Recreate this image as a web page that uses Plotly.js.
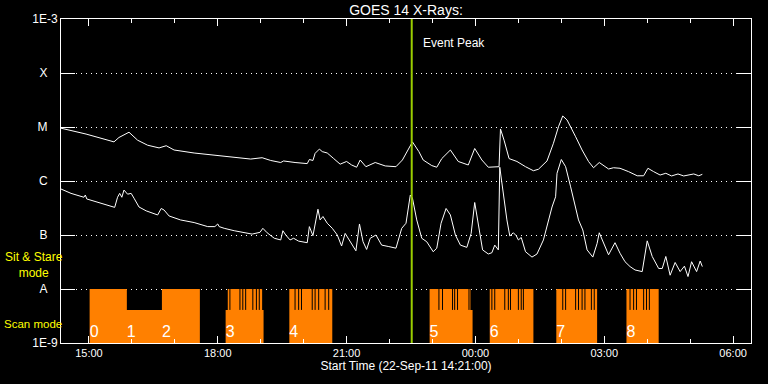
<!DOCTYPE html>
<html><head><meta charset="utf-8">
<script src="https://cdn.plot.ly/plotly-3.0.1.min.js"></script>
<style>html,body{margin:0;padding:0;background:#000;}#chart{width:768px;height:384px;}</style>
</head><body><div id="chart"></div>
<script>
// ---- data ----
const startTime = '2011-09-22 14:21:00';
const endTime = '2011-09-23 06:25:00';
const eventPeakMin = 490; // minutes after start (~22:31)

// GOES 14 long channel (1-8 A), minutes after start / flux W m^-2
const longMin = [0,35,74,81,95,107,121,137,147,158,186,219,251,265,281,293,307,311,327,344,347,352,355,361,365,372,381,390,399,406,413,418,426,439,453,468,477,485,491,500,506,518,525,532,544,555,569,578,588,597,607,612,614,619,626,637,649,660,667,679,688,695,701,707,719,728,737,744,752,765,772,781,793,805,814,820,828,837,845,853,862,870,884,891,896];
const longFlux = [9.5e-6,7.4e-6,5.3e-6,6.4e-6,8.0e-6,5.7e-6,4.6e-6,4.1e-6,4.5e-6,3.75e-6,
3.3e-6,3.0e-6,2.7e-6,2.55e-6,2.7e-6,2.4e-6,2.2e-6,2.35e-6,2.2e-6,2.1e-6,
2.5e-6,2.4e-6,3.25e-6,3.9e-6,3.5e-6,3.3e-6,2.6e-6,2.05e-6,2.3e-6,1.98e-6,
1.8e-6,2.45e-6,1.84e-6,2.2e-6,1.9e-6,1.84e-6,2.45e-6,3.75e-6,5.3e-6,3.5e-6,
2.45e-6,1.93e-6,1.8e-6,2.6e-6,3.75e-6,2.3e-6,1.98e-6,4.0e-6,2.45e-6,1.8e-6,
1.84e-6,1.84e-6,9.2e-6,5.7e-6,2.6e-6,2.3e-6,1.84e-6,1.55e-6,1.65e-6,2.35e-6,
5.0e-6,1.01e-5,1.6e-5,1.35e-5,6.6e-6,3.75e-6,2.3e-6,1.76e-6,2.2e-6,1.67e-6,
1.76e-6,1.72e-6,1.49e-6,1.25e-6,1.25e-6,1.72e-6,1.49e-6,1.29e-6,1.39e-6,1.24e-6,
1.35e-6,1.24e-6,1.35e-6,1.25e-6,1.33e-6];

// GOES 14 short channel (0.5-4 A)
const shortMin = [0,14,32,34,36,56,75,79,82,85,
88,93,98,102,109,119,135,140,144,151,
167,186,205,215,219,221,228,242,254,267,
278,282,288,298,307,310,314,320,325,332,
344,347,352,356,359,362,366,372,379,386,
392,397,403,412,417,422,427,432,440,448,
458,468,476,482,488,491,497,504,511,520,
525,531,538,544,551,558,567,573,578,583,
589,597,602,606,611,613,615,619,623,627,
632,636,639,643,649,658,665,674,679,686,
691,693,699,705,712,719,723,729,735,743,
749,752,758,765,774,781,788,795,802,812,
819,826,835,840,845,851,858,865,871,876,
881,888,893,896];
const shortFlux = [7.1e-7,5.9e-7,5.0e-7,5.5e-7,4.65e-7,3.9e-7,3.25e-7,5.0e-7,5.9e-7,5.0e-7,
6.8e-7,5.7e-7,5.9e-7,4.8e-7,3.3e-7,2.8e-7,2.35e-7,3.1e-7,2.9e-7,2.25e-7,
1.9e-7,1.7e-7,1.43e-7,1.43e-7,1.6e-7,1.43e-7,1.33e-7,1.2e-7,1.12e-7,1.04e-7,
1.12e-7,1.33e-7,1.1e-7,8.7e-8,8.1e-8,1.2e-7,1.0e-7,8.1e-8,8.7e-8,7.7e-8,
7.2e-8,1.43e-7,9.7e-8,1.9e-7,3.0e-7,1.9e-7,2.2e-7,1.65e-7,1.33e-7,1.0e-7,
6.25e-8,1.07e-7,8.1e-8,5.1e-8,1.6e-7,7.5e-8,5.4e-8,8.7e-8,1.0e-7,6.5e-8,
6.1e-8,5.7e-8,1.33e-7,1.65e-7,5.5e-7,4.8e-7,1.9e-7,8.7e-8,7.5e-8,4.9e-8,
5.7e-8,1.65e-7,3.1e-7,2.35e-7,1.0e-7,6.5e-8,5.9e-8,1.07e-7,4.0e-7,1.65e-7,
5.3e-8,4.45e-8,4.7e-8,6.5e-8,5.3e-8,1.8e-6,1.12e-6,4.45e-7,1.9e-7,9.6e-8,
1.1e-7,9.7e-8,8.1e-8,9.0e-8,4.9e-8,3.9e-8,4.45e-8,8.1e-8,1.43e-7,3.3e-7,
5.1e-7,1.39e-6,2.5e-6,1.84e-6,7.8e-7,3.3e-7,1.9e-7,1.24e-7,5.3e-8,3.9e-8,
7.0e-8,1.1e-7,7.0e-8,4.3e-8,7.2e-8,4.6e-8,3.2e-8,2.6e-8,2.25e-8,2.1e-8,
7.8e-8,4.0e-8,2.4e-8,2.4e-8,4.0e-8,1.8e-8,3.1e-8,2.1e-8,2.65e-8,1.7e-8,
3.2e-8,2.1e-8,3.3e-8,2.6e-8];

// observing mode segments (minutes after start)
const segStart = [40, 92, 141, 230, 233, 281, 319, 515, 572, 599, 692, 790];
const segEnd   = [92, 141, 194, 233, 281, 283, 379, 572, 575, 660, 749, 835];
const segMode  = ['stare','scan','stare','scan','stare','scan','stare','stare','scan','stare','stare','stare'];
// brief scan interruptions inside sit & stare periods
const scanLineMin = [236,250,254,258,268,273,277,
327,332,336,351,355,360,369,374,
528,533,547,550,554,570,
602,606,620,625,628,639,643,646,
701,705,719,723,728,732,741,745,
795,800,804,814,818,822];
// sequence numbers
const seqLabel = ['0','1','2','3','4','5','6','7','8'];
const seqMin = [40, 92, 141, 230, 319, 515, 599, 692, 790];

const classTicks = [1e-9,1e-8,1e-7,1e-6,1e-5,1e-4,1e-3];
const classLabels = ['1E-9','A','B','C','M','X','1E-3'];

// ---- helpers ----
const baseMs = Date.parse(startTime.replace(' ','T')+'Z');
function toTime(m){ return new Date(baseMs + m*60000).toISOString().slice(0,19).replace('T',' '); }
const LV = {stare:1e-8, scan:4.1e-9, base:1e-9};

// orange mode polygons
const px = [], py = [];
let i = 0;
while (i < segStart.length) {
  px.push(toTime(segStart[i])); py.push(LV.base);
  let j = i;
  while (true) {
    px.push(toTime(segStart[j])); py.push(LV[segMode[j]]);
    px.push(toTime(segEnd[j])); py.push(LV[segMode[j]]);
    if (j+1 < segStart.length && segStart[j+1] === segEnd[j]) j++; else break;
  }
  px.push(toTime(segEnd[j])); py.push(LV.base);
  px.push(null); py.push(null);
  i = j+1;
}
const lx = [], ly = [];
scanLineMin.forEach(m => { lx.push(toTime(m), toTime(m), null); ly.push(LV.scan, LV.stare, null); });

const pad = s => s.length === 1 ? s + '\u00a0\u00a0\u00a0' : s;

const traces = [
  {x:px, y:py, type:'scatter', mode:'lines', fill:'toself', fillcolor:'#ff8000', line:{width:0, color:'#ff8000'}, hoverinfo:'skip'},
  {x:lx, y:ly, type:'scatter', mode:'lines', line:{width:1, color:'#000'}, hoverinfo:'skip'},
  {x:longMin.map(toTime), y:longFlux, type:'scatter', mode:'lines', line:{width:1, color:'#fff'}},
  {x:shortMin.map(toTime), y:shortFlux, type:'scatter', mode:'lines', line:{width:1, color:'#fff'}},
  {x:[toTime(eventPeakMin), toTime(eventPeakMin)], y:[1e-9, 1e-3], type:'scatter', mode:'lines', line:{width:2, color:'#9acd00'}},
  {x:seqMin.map(toTime), y:seqMin.map(()=>1.53e-9), text:seqLabel, type:'scatter', mode:'text', textposition:'middle right', textfont:{size:16, color:'#fff', family:'Liberation Sans, Arial, sans-serif'}, cliponaxis:false}
];

const layout = {
  width:768, height:384,
  margin:{l:61, r:17, t:19, b:41, pad:0},
  paper_bgcolor:'#000', plot_bgcolor:'#000',
  font:{family:'Liberation Sans, Arial, sans-serif', color:'#fff', size:12},
  showlegend:false, hovermode:false,
  title:{text:'GOES 14 X-Rays:', font:{size:14, color:'#fff'}, x:0.5, xref:'paper', xanchor:'center', y:0.974, yref:'container', yanchor:'middle'},
  xaxis:{type:'date', range:[startTime, endTime], showline:true, linecolor:'#fff', linewidth:1, mirror:'ticks',
    ticks:'inside', ticklen:7, tickcolor:'#fff', tick0:'2011-09-22 15:00:00', dtick:10800000, tickformat:'%H:%M',
    tickfont:{size:11, color:'#fff'}, showgrid:false, zeroline:false,
    minor:{dtick:3600000, tick0:'2011-09-22 15:00:00', ticks:'inside', ticklen:4, tickcolor:'#fff', showgrid:false},
    title:{text:'Start Time (22-Sep-11 14:21:00)', font:{size:12, color:'#fff'}, standoff:2}},
  yaxis:{type:'log', range:[-9,-3], showline:true, linecolor:'#fff', linewidth:1, mirror:'ticks',
    ticks:'inside', ticklen:14, tickcolor:'#fff', tickmode:'array', tickvals:classTicks, ticktext:classLabels.map(pad),
    tickfont:{size:12, color:'#fff'}, showgrid:true, gridcolor:'#fff', gridwidth:1, griddash:'1px,4px', zeroline:false},
  annotations:[
    {text:'Event Peak', x:toTime(eventPeakMin), xref:'x', xanchor:'left', xshift:9, y:0.926, yref:'paper', yanchor:'middle', showarrow:false, font:{size:12, color:'#fff'}},
    {text:'Sit & Stare<br>mode', x:-0.039, xref:'paper', xanchor:'center', y:0.242, yref:'paper', yanchor:'middle', showarrow:false, align:'center', font:{size:12, color:'#ffff00'}},
    {text:'Scan mode', x:-0.0855, xref:'paper', xanchor:'left', y:0.0586, yref:'paper', yanchor:'middle', showarrow:false, font:{size:11.5, color:'#ffff00'}}
  ]
};
Plotly.newPlot('chart', traces, layout, {staticPlot:true, displayModeBar:false});
</script></body></html>
